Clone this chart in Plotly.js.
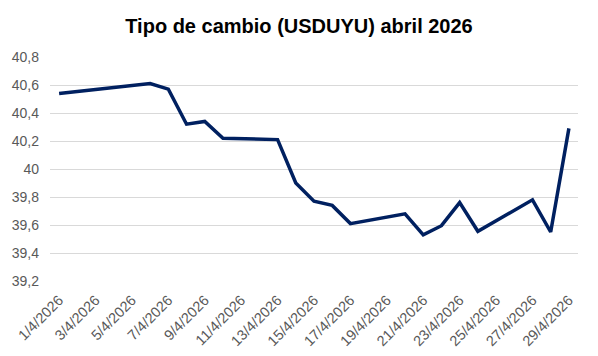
<!DOCTYPE html>
<html>
<head>
<meta charset="utf-8">
<script src="https://cdn.plot.ly/plotly-3.0.1.min.js"></script>
<style>html,body{margin:0;padding:0;background:#fff;}#chart{width:598px;height:356px;}</style>
</head>
<body>
<div id="chart"></div>
<script>
const dates = ['2026-04-01','2026-04-06','2026-04-07','2026-04-08','2026-04-09','2026-04-10',
  '2026-04-13','2026-04-14','2026-04-15','2026-04-16','2026-04-17',
  '2026-04-20','2026-04-21','2026-04-22','2026-04-23','2026-04-24',
  '2026-04-27','2026-04-28','2026-04-29'];
const rates = [40.54,40.61,40.57,40.32,40.34,40.22,
  40.21,39.90,39.77,39.74,39.61,
  39.68,39.53,39.595,39.76,39.555,
  39.78,39.55,40.29];
const xTickVals = ['2026-04-01','2026-04-03','2026-04-05','2026-04-07','2026-04-09','2026-04-11',
  '2026-04-13','2026-04-15','2026-04-17','2026-04-19','2026-04-21','2026-04-23',
  '2026-04-25','2026-04-27','2026-04-29'];
const xTickText = ['1/4/2026','3/4/2026','5/4/2026','7/4/2026','9/4/2026','11/4/2026',
  '13/4/2026','15/4/2026','17/4/2026','19/4/2026','21/4/2026','23/4/2026',
  '25/4/2026','27/4/2026','29/4/2026'];
const yTickVals = [39.2,39.4,39.6,39.8,40,40.2,40.4,40.6,40.8];
const yTickText = ['39,2','39,4','39,6','39,8','40','40,2','40,4','40,6','40,8'];
const chartTitle = 'Tipo de cambio (USDUYU) abril 2026';

Plotly.newPlot('chart', [{
  x: dates, y: rates, type: 'scatter', mode: 'lines',
  line: {color: '#002060', width: 3.5},
  hoverinfo: 'skip'
}], {
  width: 598, height: 356,
  margin: {l: 50, r: 20, t: 57, b: 75},
  paper_bgcolor: '#fff', plot_bgcolor: '#fff',
  showlegend: false,
  title: {text: '<b>' + chartTitle + '</b>', x: 0.5, xanchor: 'center', y: 0.928, yanchor: 'middle',
    font: {family: 'Liberation Sans, Arial, sans-serif', size: 20, color: '#000'}},
  xaxis: {
    type: 'date', range: ['2026-03-31 12:00', '2026-04-29 12:00'],
    tickmode: 'array', tickvals: xTickVals, ticktext: xTickText,
    tickangle: -45, showgrid: false, zeroline: false, showline: false, ticks: '',
    ticklabelstandoff: 7,
    tickfont: {family: 'Liberation Sans, Arial, sans-serif', size: 14.5, color: '#595959'}
  },
  yaxis: {
    range: [39.2, 40.8], tickmode: 'array', tickvals: yTickVals, ticktext: yTickText,
    showgrid: true, gridcolor: '#d9d9d9', gridwidth: 1, zeroline: false, showline: false, ticks: '',
    ticklabelstandoff: 10,
    tickfont: {family: 'Liberation Sans, Arial, sans-serif', size: 14, color: '#595959'}
  }
}, {staticPlot: true, displayModeBar: false});
</script>
</body>
</html>
